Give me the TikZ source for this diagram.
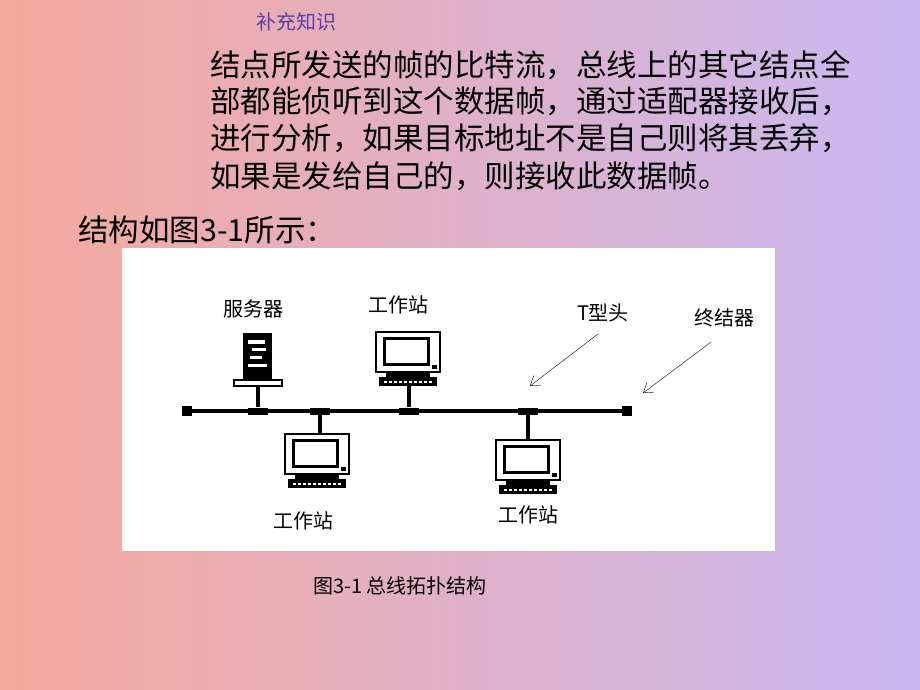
\documentclass[tikz,border=0pt]{standalone}
\usepackage{fontspec}
\setmainfont{Liberation Sans}
\newfontfamily\cjk{Noto Sans CJK SC}
\usetikzlibrary{arrows.meta}
\definecolor{salmon}{HTML}{F6A99C}
\definecolor{lilac}{HTML}{C9B9F3}
\definecolor{noteblue}{HTML}{5B3FA8}
\tikzset{
  body/.style={anchor=west, font=\cjk\fontsize{30.5}{34}\selectfont, inner sep=0},
  lbl/.style={font=\cjk\fontsize{20}{24}\selectfont, inner sep=0},
  tjoint/.style={fill=black, minimum width=20pt, minimum height=7pt, inner sep=0},
  endcap/.style={fill=black, minimum size=10pt, inner sep=0},
  pointer/.style={thin, -{Straight Barb[length=9pt, width=12pt]}},
  computer/.pic={
    \draw[line width=2.5pt, fill=white] (-32,0) rectangle (32,40);
    \draw[line width=3pt] (-24,6) rectangle (20,32);
    \fill (24,33) rectangle (29,37);
    \fill (-22,40) rectangle (22,45);
    \fill (-29,45) rectangle (29,54);
    \foreach \k in {-24,-19,...,24} \fill[white] (\k,49) rectangle (\k+3,50.5);
  }
}
\begin{document}
\begin{tikzpicture}[x=1pt, y=-1pt]
\shade[left color=salmon, right color=lilac] (0,0) rectangle (920,690);
\useasboundingbox (0,0) rectangle (920,690);

\node[anchor=west, text=noteblue, font=\cjk\fontsize{20}{24}\selectfont, inner sep=0] (note) at (256,22) {补充知识};
\node[body] (l1) at (210,65) {结点所发送的帧的比特流，总线上的其它结点全};
\node[body] (l2) at (210,101) {部都能侦听到这个数据帧，通过适配器接收后，};
\node[body] (l3) at (210,138) {进行分析，如果目标地址不是自己则将其丢弃，};
\node[body] (l4) at (210,176) {如果是发给自己的，则接收此数据帧。};
\node[body] (intro) at (78,230) {结构如图3-1所示：};

\fill[white] (122,248) rectangle (775,551);

% bus
\draw[line width=3.5pt] (187,411) -- (627,411);
\node[endcap] (e1) at (187,411) {};
\node[endcap] (e2) at (627,411) {};
\foreach \x/\n in {258/ts, 320/ta, 409/tb, 528/tc}
  \node[tjoint] (\n) at (\x,411) {};

% server
\draw[line width=3.5pt] (ts) -- (258,385);
\fill (243,333) rectangle (272,379);
\fill[white] (248,340) rectangle (265,344);
\fill[white] (252,348) rectangle (266,351);
\fill[white] (250,356) rectangle (262,359);
\fill[white] (248,364) rectangle (267,367);
\draw[line width=1.5pt, fill=white] (234,380) rectangle (282,386);

% workstations
\draw[line width=3.5pt] (tb) -- (409,385);
\pic at (408,332) {computer};
\draw[line width=3.5pt] (ta) -- (320,434);
\pic at (317,434) {computer};
\draw[line width=3.5pt] (tc) -- (528,440);
\pic at (528,440) {computer};

% labels
\node[lbl] (sv) at (253,309) {服务器};
\node[lbl] (w1) at (398,305) {工作站};
\node[lbl] (w2) at (303,521) {工作站};
\node[lbl] (w3) at (528,515) {工作站};
\node[lbl] (tl) at (603,313) {T型头};
\node[lbl] (tm) at (724,318) {终结器};
\coordinate (ta1) at (598,334);
\coordinate (ta2) at (530,386);
\coordinate (tm1) at (711,342);
\coordinate (tm2) at (643,393);
\draw[pointer] (ta1) -- (ta2);
\draw[pointer] (tm1) -- (tm2);

\node[font=\cjk\fontsize{20}{24}\selectfont, inner sep=0] (cap) at (400,586) {图3-1 总线拓扑结构};
\end{tikzpicture}
\end{document}
